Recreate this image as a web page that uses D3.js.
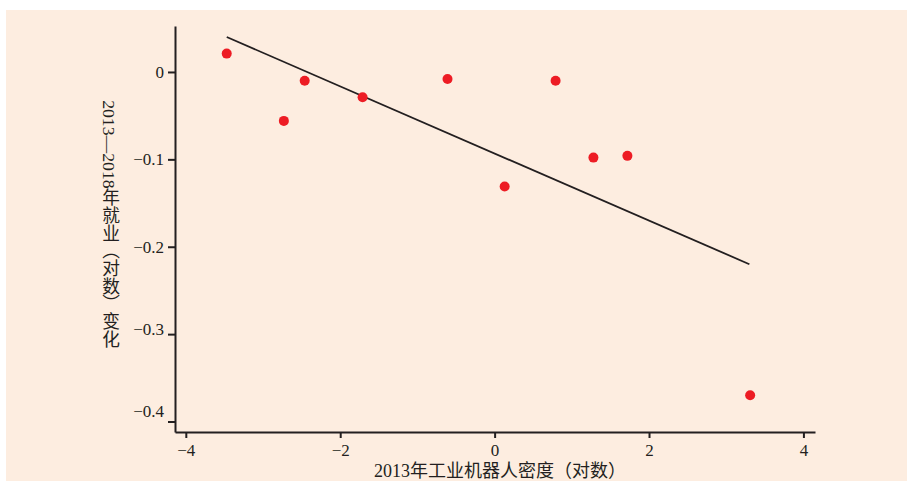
<!DOCTYPE html>
<html>
<head>
<meta charset="utf-8">
<script src="https://cdn.jsdelivr.net/npm/d3@7"></script>
<style>
  body { margin: 0; background: #fff; }
  text { font-family: "Liberation Serif", "Noto Sans CJK SC", serif; fill: #231f20; }
</style>
</head>
<body>
<script>
width = 907
height = 481

// robot density (log, 2013) vs employment change (log, 2013-2018)
density = [-3.47, -2.73, -2.46, -1.71, -0.61, 0.13, 0.79, 1.28, 1.72, 3.31]
employment = [0.021, -0.056, -0.010, -0.029, -0.008, -0.131, -0.010, -0.098, -0.096, -0.370]

// fitted line end points
fitX = [-3.47, 3.30]
fitY = [0.040, -0.220]

xTicks = [-4, -2, 0, 2, 4]
yTicks = [0, -0.1, -0.2, -0.3, -0.4]
xTitle = "2013年工业机器人密度（对数）"
yTitle = "2013—2018年就业（对数）变化"

svg = d3.select("body")
    .append("svg")
    .attr("width", width)
    .attr("height", height)

// beige panel
svg.append("rect")
    .attr("x", 6)
    .attr("y", 10)
    .attr("width", width - 6)
    .attr("height", height - 10)
    .attr("fill", "#fdede0")

x = d3.scaleLinear().domain([-4.14, 4.15]).range([175, 815])
y = d3.scaleLinear().domain([0.0526, -0.412]).range([26, 432])

fmt = function(d) { return d === 0 ? "0" : d3.format(".1f")(d).replace("-", "\u2212") }

// x axis
gx = svg.append("g")
    .attr("transform", "translate(0," + 432 + ")")
    .call(d3.axisBottom(x).tickValues(xTicks).tickSize(6).tickPadding(6)
        .tickSizeOuter(0).tickFormat(function(d) { return d < 0 ? "\u2212" + (-d) : d }))
gx.select(".domain").attr("stroke", "#231f20").attr("stroke-width", 2)
gx.selectAll(".tick line").attr("stroke", "#231f20").attr("stroke-width", 2)
gx.selectAll(".tick text").attr("font-size", 17).attr("fill", "#231f20")

// y axis
gy = svg.append("g")
    .attr("transform", "translate(" + 175 + ",0)")
    .call(d3.axisLeft(y).tickValues(yTicks).tickSize(7).tickPadding(4)
        .tickSizeOuter(0).tickFormat(fmt))
gy.select(".domain").attr("stroke", "#231f20").attr("stroke-width", 2)
gy.selectAll(".tick line").attr("stroke", "#231f20").attr("stroke-width", 2)
gy.selectAll(".tick text").attr("font-size", 17).attr("fill", "#231f20")
// the lower labels sit a little above their ticks in the original
gy.selectAll(".tick text")
    .attr("y", function(d) { return d === -0.3 ? -5 : d === -0.4 ? -10 : 0 })

// fitted line
svg.append("line")
    .attr("x1", x(fitX[0]))
    .attr("y1", y(fitY[0]))
    .attr("x2", x(fitX[1]))
    .attr("y2", y(fitY[1]))
    .attr("stroke", "#231f20")
    .attr("stroke-width", 1.8)

// points
svg.selectAll("circle.pt")
    .data(d3.range(density.length))
    .enter()
    .append("circle")
    .attr("class", "pt")
    .attr("cx", function(i) { return x(density[i]) })
    .attr("cy", function(i) { return y(employment[i]) })
    .attr("r", 5)
    .attr("fill", "#ed1c24")

// axis titles
svg.append("text")
    .attr("x", 500)
    .attr("y", 477)
    .attr("text-anchor", "middle")
    .attr("font-size", 18)
    .attr("fill", "#444")
    .text(xTitle)

svg.append("text")
    .attr("x", 109)
    .attr("y", 224)
    .attr("text-anchor", "middle")
    .attr("font-size", 17.7)
    .attr("fill", "#444")
    .style("writing-mode", "vertical-rl")
    .style("text-orientation", "mixed")
    .text(yTitle)
</script>
</body>
</html>
